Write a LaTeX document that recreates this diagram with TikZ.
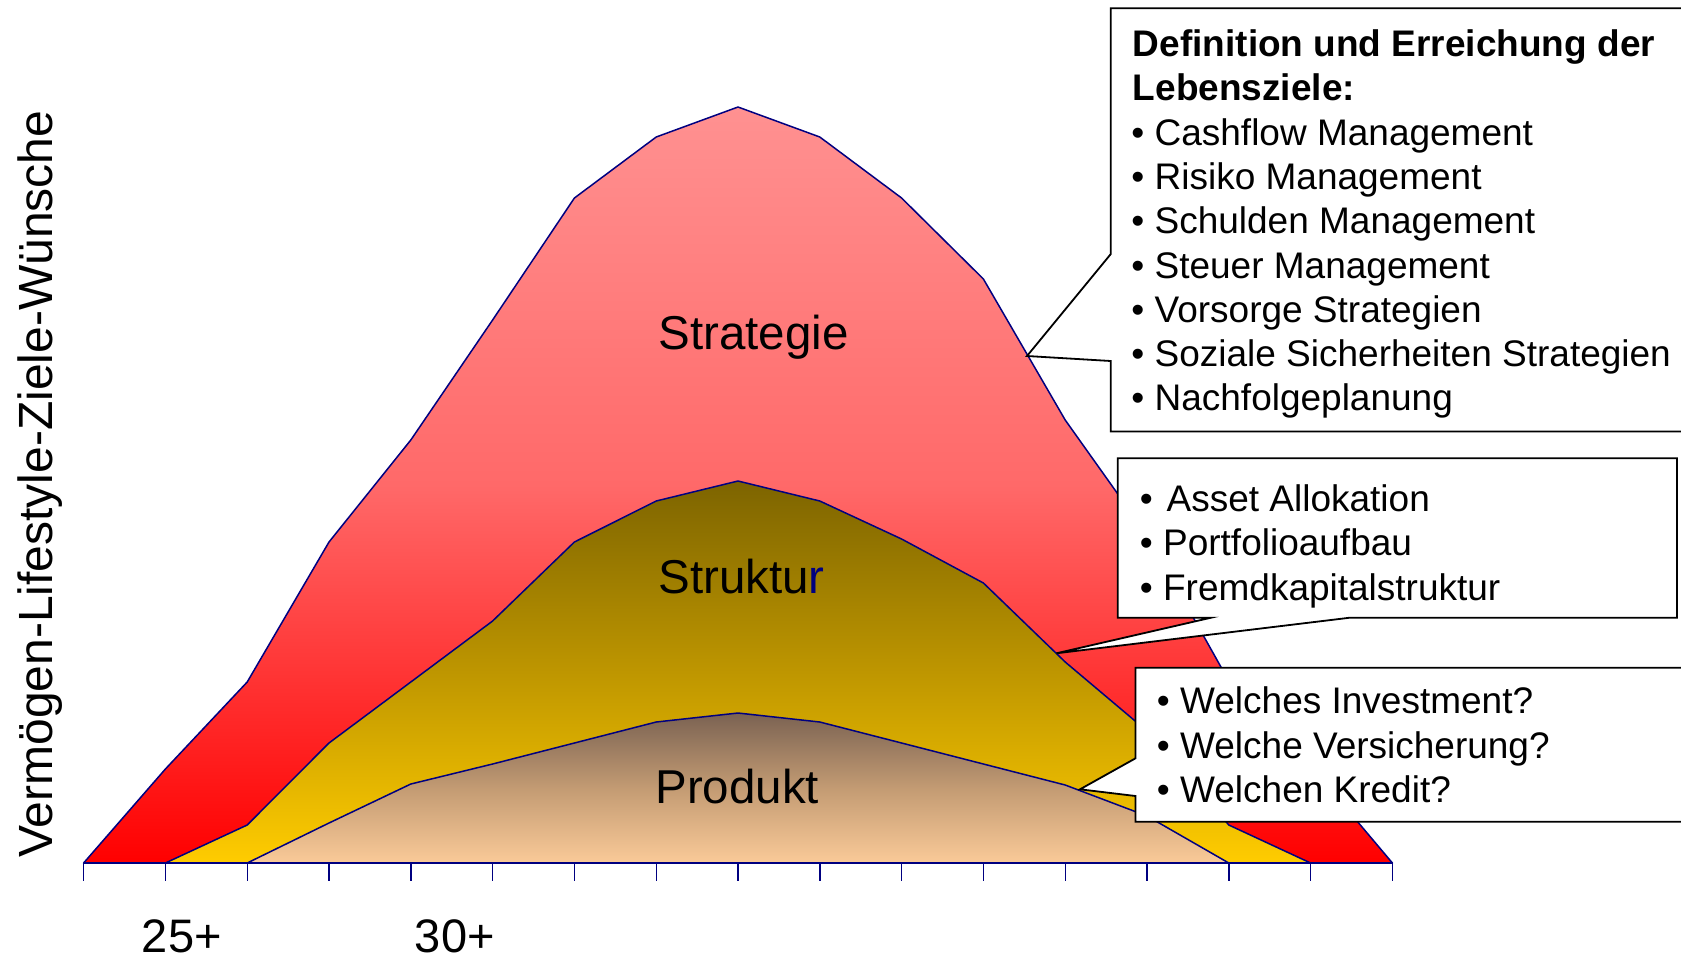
\documentclass[tikz,border=0pt]{standalone}
\usepackage{fontspec}
\setmainfont{Liberation Sans}
\definecolor{navy}{RGB}{0,0,128}
\definecolor{redtop}{RGB}{255,145,145}
\definecolor{redmid}{RGB}{255,105,105}
\definecolor{redbot}{RGB}{255,0,0}
\definecolor{goldtop}{RGB}{125,100,0}
\definecolor{goldmid}{RGB}{190,150,0}
\definecolor{goldbot}{RGB}{255,204,0}
\definecolor{tantop}{RGB}{122,98,82}
\definecolor{tanmid}{RGB}{195,155,115}
\definecolor{tanbot}{RGB}{250,202,152}
\begin{document}
\begin{tikzpicture}[x=0.5pt,y=-0.5pt,
  layer/.style={draw=navy,line width=0.75pt,line join=round},
  callout/.style={draw=black,fill=white,line width=0.9pt,line join=miter},
  axisline/.style={draw=navy,line width=1.4pt},
  tickmark/.style={draw=navy,line width=0.7pt},
  listline/.style={anchor=base west,inner sep=0pt,font=\fontsize{18.5}{22}\selectfont},
  areaname/.style={anchor=base west,inner sep=0pt,font=\fontsize{23.75}{28}\selectfont},
  agelabel/.style={anchor=base west,inner sep=0pt,font=\fontsize{23.5}{28}\selectfont}]
\useasboundingbox (0,0) rectangle (1681,960);

% outer layer: Strategie
\path[layer,top color=redtop,bottom color=redbot,middle color=redmid]
  (83.6,863) -- (165.4,769) -- (247.2,682) -- (329.0,542) -- (410.8,440)
  -- (492.6,320) -- (574.4,198) -- (656.2,137) -- (738.0,107) -- (819.8,137)
  -- (901.6,198) -- (983.4,279) -- (1065.2,420) -- (1147.0,535) -- (1228.8,681)
  -- (1310.6,766) -- (1392.4,863) -- cycle;

% middle layer: Struktur
\path[layer,top color=goldtop,bottom color=goldbot,middle color=goldmid]
  (165.4,863) -- (247.2,825) -- (329.0,743) -- (410.8,682) -- (492.6,621)
  -- (574.4,542) -- (656.2,501) -- (738.0,481) -- (819.8,501) -- (901.6,539)
  -- (983.4,583) -- (1065.2,662) -- (1147.0,731) -- (1228.8,825)
  -- (1310.6,863) -- cycle;

% inner layer: Produkt
\path[layer,top color=tantop,bottom color=tanbot,middle color=tanmid]
  (247.2,863) -- (329.0,823) -- (410.8,784) -- (492.6,764) -- (574.4,743)
  -- (656.2,722) -- (738.0,713) -- (819.8,722) -- (901.6,743) -- (983.4,764)
  -- (1065.2,785) -- (1147.0,816) -- (1228.8,863) -- cycle;

% horizontal axis with ticks
\draw[axisline] (83.6,863) -- (1392.4,863);
\foreach \i in {0,...,16}
  \draw[tickmark] ({83.6+81.8*\i},863) -- ({83.6+81.8*\i},881);

% layer names
\node[areaname] (strategie) at (658,349) {Strategie};
\node[areaname] (struktur) at (658,593) {Struktu\textcolor{navy}{r}};
\node[areaname] (produkt) at (655,803.5) {Produkt};

% axis texts
\node[rotate=90,anchor=base,inner sep=0pt,font=\fontsize{24}{28}\selectfont]
  (yaxis) at (52,484) {Vermögen-Lifestyle-Ziele-Wünsche};
\node[agelabel] (age25) at (141.5,952) {25+};
\node[agelabel] (age30) at (414.5,952) {30+};

% callout for Strategie
\path[callout] (1110.8,8.3) -- (1700,8.3) -- (1700,431.5) -- (1110.8,431.5)
  -- (1110.8,361) -- (1027,356) -- (1110.8,254) -- cycle;
\node[listline,font=\fontsize{18.5}{22}\selectfont\bfseries] (s1) at (1132.5,56.5) {Definition und Erreichung der};
\node[listline,font=\fontsize{18.5}{22}\selectfont\bfseries] (s2) at (1132.5,100.8) {Lebensziele:};
\foreach \t [count=\k] in {Cashflow Management,Risiko Management,Schulden Management,
    Steuer Management,Vorsorge Strategien,Soziale Sicherheiten Strategien,Nachfolgeplanung}
  \node[listline] (sb\k) at (1131,{100.8+44.3*\k}) {• \t};

% callout for Struktur
\path[callout] (1117.7,458.3) -- (1677,458.3) -- (1677,617.7) -- (1349.8,617.7)
  -- (1056.3,653.3) -- (1211,617.7) -- (1117.7,617.7) -- cycle;
\node[listline] (t1) at (1139.5,511) {•\kern6.9pt Asset Allokation};
\node[listline] (t2) at (1139.5,555.7) {• Portfolioaufbau};
\node[listline] (t3) at (1139.5,600.5) {• Fremdkapitalstruktur};

% callout for Produkt
\path[callout] (1135.5,667.7) -- (1700,667.7) -- (1700,821.7) -- (1135.5,821.7)
  -- (1135.5,796) -- (1080,789.3) -- (1135.5,758.3) -- cycle;
\node[listline] (p1) at (1156.5,713.3) {• Welches Investment?};
\node[listline] (p2) at (1156.5,758.3) {• Welche Versicherung?};
\node[listline] (p3) at (1156.5,802.7) {• Welchen Kredit?};
\end{tikzpicture}
\end{document}
